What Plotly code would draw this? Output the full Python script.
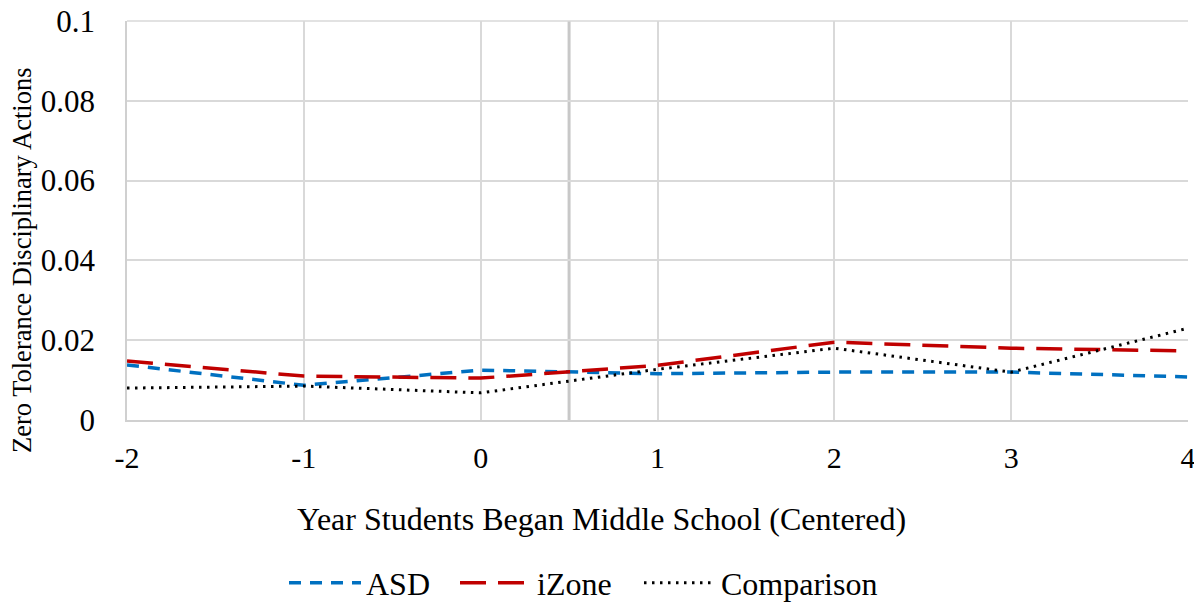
import plotly.graph_objects as go

years = [-2, -1, 0, 1, 2, 3, 4]
year_labels = ["-2", "-1", "0", "1", "2", "3", "4"]
asd = [0.0138, 0.0087, 0.0125, 0.0116, 0.0120, 0.0120, 0.0108]
izone = [0.0148, 0.0110, 0.0105, 0.0137, 0.0195, 0.0180, 0.0173]
comparison = [0.0080, 0.0085, 0.0068, 0.0127, 0.0180, 0.0120, 0.0230]
y_ticks = [0, 0.02, 0.04, 0.06, 0.08, 0.1]
y_tick_text = ["0", "0.02", "0.04", "0.06", "0.08", "0.1"]
cutoff = 0.5
x_title = "Year Students Began Middle School (Centered)"
y_title = "Zero Tolerance Disciplinary Actions"

font_family = "Liberation Serif, Times New Roman, serif"

# page body has an 8px margin; work in figure coordinates = reference - 8
OFF = 8
PL, PT, PW, PH = 127 - OFF, 21 - OFF, 1061, 399


def px(xr):
    return (xr - OFF - PL) / PW


def py(yr):
    return (PT + PH - (yr - OFF)) / PH


fig = go.Figure()
fig.add_trace(go.Scatter(x=years, y=asd, mode="lines", name="ASD", legend="legend",
                         line=dict(color="#0070C0", width=3.5, dash="12px,9px")))
fig.add_trace(go.Scatter(x=years, y=izone, mode="lines", name="iZone", legend="legend2",
                         line=dict(color="#C00000", width=3.5, dash="26px,12px")))
fig.add_trace(go.Scatter(x=years, y=comparison, mode="lines", name="Comparison",
                         legend="legend3",
                         line=dict(color="#000000", width=3, dash="2.5px,5.5px")))

fig.add_shape(type="line", xref="x", yref="paper", x0=cutoff, x1=cutoff, y0=0, y1=1,
              line=dict(color="#C8C8C8", width=3), layer="below")
fig.add_shape(type="line", xref="paper", yref="paper", x0=0, x1=1, y0=1, y1=1,
              line=dict(color="#D9D9D9", width=1.5), layer="below")

fig.add_annotation(text=x_title, xref="paper", yref="paper",
                   x=px(601), y=py(519),
                   xanchor="center", yanchor="middle", showarrow=False,
                   font=dict(size=32, family=font_family, color="#000000"))
fig.add_annotation(text=y_title, xref="paper", yref="paper", textangle=-90,
                   x=px(22), y=py(261),
                   xanchor="center", yanchor="middle", showarrow=False,
                   font=dict(size=26.5, family=font_family, color="#000000"))

leg_common = dict(orientation="h", xanchor="left", yanchor="middle", y=py(583),
                  font=dict(size=32, family=font_family, color="#000000"),
                  bgcolor="rgba(0,0,0,0)", borderwidth=0, itemwidth=72)

fig.update_layout(
    width=1202 - OFF, height=605 - OFF,
    margin=dict(l=PL, r=1202 - OFF - PL - PW, t=PT, b=605 - OFF - PT - PH, autoexpand=False),
    paper_bgcolor="white", plot_bgcolor="white",
    font=dict(family=font_family, size=30, color="#000000"),
    showlegend=True,
    legend=dict(x=px(284), **leg_common),
    legend2=dict(x=px(455), **leg_common),
    legend3=dict(x=px(639), **leg_common),
    xaxis=dict(range=[-2, 4], tickvals=years, ticktext=year_labels, showgrid=True,
               gridcolor="#D9D9D9", gridwidth=1.5, zeroline=False, showline=True,
               linecolor="#D0D0D0", linewidth=1.5, automargin=False,
               ticks="outside", ticklen=10, tickcolor="rgba(0,0,0,0)",
               tickfont=dict(size=30)),
    yaxis=dict(range=[0, 0.1], tickvals=y_ticks, ticktext=y_tick_text, showgrid=True,
               gridcolor="#D9D9D9", gridwidth=1.5, zeroline=False, showline=True,
               linecolor="#D0D0D0", linewidth=1.5, automargin=False,
               ticks="outside", ticklen=24, tickcolor="rgba(0,0,0,0)",
               ticklabeloverflow="allow", tickfont=dict(size=31)),
)

fig.write_html("out.html")
